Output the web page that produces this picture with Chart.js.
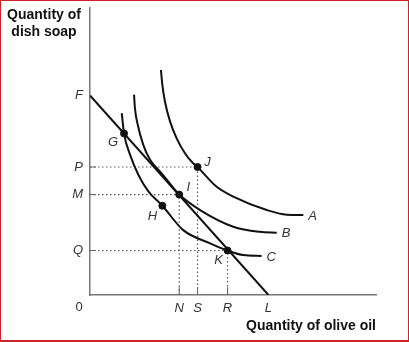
<!DOCTYPE html>
<html>
<head>
<meta charset="utf-8">
<script src="https://cdn.jsdelivr.net/npm/chart.js@4.4.1/dist/chart.umd.min.js"></script>
<style>
html, body { margin: 0; padding: 0; background: #fff; }
#wrap { position: relative; width: 409px; height: 342px; }
#frame { position: absolute; left: 0; top: 0; width: 409px; height: 342px; box-sizing: border-box;
         border: 1px solid #cc2229; border-bottom-width: 2px; pointer-events: none; }
</style>
</head>
<body>
<div id="wrap">
  <canvas id="chart" width="409" height="342"></canvas>
  <div id="frame"></div>
</div>
<script>
// ===== DATA (arbitrary units 0-100) =====
const yTickValues = [69.5, 44.6, 35, 15.5];
const yTickLabels = ['F', 'P', 'M', 'Q'];
const xTickValues = [31.2, 37.6, 48.1, 62.4];
const xTickLabels = ['N', 'S', 'R', 'L'];

// budget line F -> L
const budgetX = [0, 62.4];
const budgetY = [69.5, 0];

// indifference curves
const curveNames = ['A', 'B', 'C'];
const curveAx = [24.8, 25.3, 26.2, 28.0, 30.3, 33.2, 35.6, 37.6, 44.3, 50.1, 61.8, 68.8, 74.6];
const curveAy = [78.4, 73.2, 67.4, 60.4, 54.6, 49.4, 46.4, 44.6, 37.7, 34.3, 29.6, 28.0, 27.9];
const curveBx = [15.4, 15.7, 16.7, 18.6, 21.0, 24.5, 27.4, 31.2, 38.5, 50.1, 59.4, 65.3];
const curveBy = [69.8, 65.2, 59.3, 52.4, 47.1, 43.0, 39.5, 35.0, 29.6, 23.8, 22.0, 21.7];
const curveCx = [11.1, 11.9, 14.0, 16.9, 20.4, 25.3, 32.6, 42.0, 48.1, 53.6, 60.0];
const curveCy = [63.4, 56.3, 48.9, 41.9, 36.1, 31.1, 22.6, 18.0, 15.5, 13.9, 13.6];

// marked bundles
const pointNames = ['G', 'H', 'I', 'J', 'K'];
const pointX = [11.9, 25.3, 31.2, 37.6, 48.1];
const pointY = [56.3, 31.1, 35.0, 44.6, 15.5];

// bundles with dotted guides to both axes
const guidePoints = ['I', 'J', 'K'];

// ===== HELPERS =====
function toXY(xs, ys) {
    return xs.map((x, i) => ({ x: x, y: ys[i] }));
}

function lineDataset(data, extra) {
    return Object.assign({
        data: data,
        showLine: true,
        borderColor: '#111',
        borderWidth: 2,
        pointRadius: 0,
        fill: false
    }, extra || {});
}

const curves = [toXY(curveAx, curveAy), toXY(curveBx, curveBy), toXY(curveCx, curveCy)];

const guideSets = guidePoints.map(name => {
    const i = pointNames.indexOf(name);
    return lineDataset(
        [{ x: 0, y: pointY[i] }, { x: pointX[i], y: pointY[i] }, { x: pointX[i], y: 0 }],
        { borderColor: '#555', borderWidth: 1.2, borderDash: [1.5, 2.5], order: 3 }
    );
});

const FONT = "'Liberation Sans', Arial, Helvetica, sans-serif";

// ===== LABELS / DECORATION =====
const annotations = {
    id: 'annotations',
    afterDatasetsDraw(chart) {
        const ctx = chart.ctx;
        const xs = chart.scales.x;
        const ys = chart.scales.y;
        ctx.save();

        // short solid tick marks where the guides reach the axes
        ctx.strokeStyle = '#666';
        ctx.lineWidth = 1;
        guidePoints.forEach(name => {
            const i = pointNames.indexOf(name);
            const px = xs.getPixelForValue(pointX[i]);
            const py = ys.getPixelForValue(pointY[i]);
            ctx.beginPath();
            ctx.moveTo(xs.left, py); ctx.lineTo(xs.left + 6, py);
            ctx.moveTo(px, ys.bottom); ctx.lineTo(px, ys.bottom - 8);
            ctx.stroke();
        });

        // point labels
        const offsets = { G: [-11, 9], H: [-10, 11], I: [9, -7], J: [10, -5], K: [-9, 10] };
        ctx.fillStyle = '#333';
        ctx.font = 'italic 13px ' + FONT;
        ctx.textAlign = 'center';
        ctx.textBaseline = 'middle';
        pointNames.forEach((name, i) => {
            const o = offsets[name];
            ctx.fillText(name, xs.getPixelForValue(pointX[i]) + o[0], ys.getPixelForValue(pointY[i]) + o[1]);
        });

        // curve labels at right ends
        ctx.textAlign = 'left';
        curves.forEach((c, i) => {
            const last = c[c.length - 1];
            ctx.fillText(curveNames[i], xs.getPixelForValue(last.x) + 5, ys.getPixelForValue(last.y) + 1);
        });

        // origin
        ctx.font = '13px ' + FONT;
        ctx.textAlign = 'center';
        ctx.fillText('0', xs.getPixelForValue(0) - 11, ys.getPixelForValue(0) + 12);

        // axis titles
        ctx.fillStyle = '#111';
        ctx.font = 'bold 14px ' + FONT;
        ctx.fillText('Quantity of', 44, 15);
        ctx.fillText('dish soap', 44, 32);
        ctx.textAlign = 'right';
        ctx.fillText('Quantity of olive oil', xs.right, 326);

        ctx.restore();
    }
};

// ===== CHART =====
new Chart(document.getElementById('chart'), {
    type: 'scatter',
    data: {
        datasets: [
            {
                data: toXY(pointX, pointY),
                backgroundColor: '#111',
                borderColor: '#111',
                pointRadius: 3.5,
                pointHoverRadius: 3.5,
                order: 0
            },
            lineDataset(toXY(budgetX, budgetY), { order: 1 }),
            lineDataset(curves[0], { cubicInterpolationMode: 'monotone', order: 2 }),
            lineDataset(curves[1], { cubicInterpolationMode: 'monotone', order: 2 }),
            lineDataset(curves[2], { cubicInterpolationMode: 'monotone', order: 2 })
        ].concat(guideSets)
    },
    options: {
        responsive: false,
        animation: false,
        events: [],
        layout: { padding: { top: 8, right: 33, left: 0, bottom: 0 } },
        plugins: {
            legend: { display: false },
            tooltip: { enabled: false }
        },
        scales: {
            x: {
                type: 'linear',
                min: 0,
                max: 100,
                grid: { display: false, drawTicks: false },
                border: { display: true, color: '#777', width: 1.5 },
                afterBuildTicks: scale => { scale.ticks = xTickValues.map(v => ({ value: v })); },
                afterFit: scale => {
                    scale.height = 47;
                    scale.paddingLeft = 0;
                    scale.paddingRight = 0;
                },
                ticks: {
                    autoSkip: false,
                    maxRotation: 0,
                    padding: 6,
                    color: '#333',
                    font: { family: FONT, size: 13, style: 'italic' },
                    callback: value => xTickLabels[xTickValues.indexOf(value)]
                }
            },
            y: {
                type: 'linear',
                min: 0,
                max: 100,
                grid: { display: false, drawTicks: false },
                border: { display: true, color: '#777', width: 1.5 },
                afterBuildTicks: scale => { scale.ticks = yTickValues.map(v => ({ value: v })); },
                afterFit: scale => {
                    scale.width = 90;
                    scale.paddingTop = 0;
                    scale.paddingBottom = 0;
                },
                ticks: {
                    autoSkip: false,
                    padding: 7,
                    color: '#333',
                    font: { family: FONT, size: 13, style: 'italic' },
                    callback: value => yTickLabels[yTickValues.indexOf(value)]
                }
            }
        }
    },
    plugins: [annotations]
});
</script>
</body>
</html>
